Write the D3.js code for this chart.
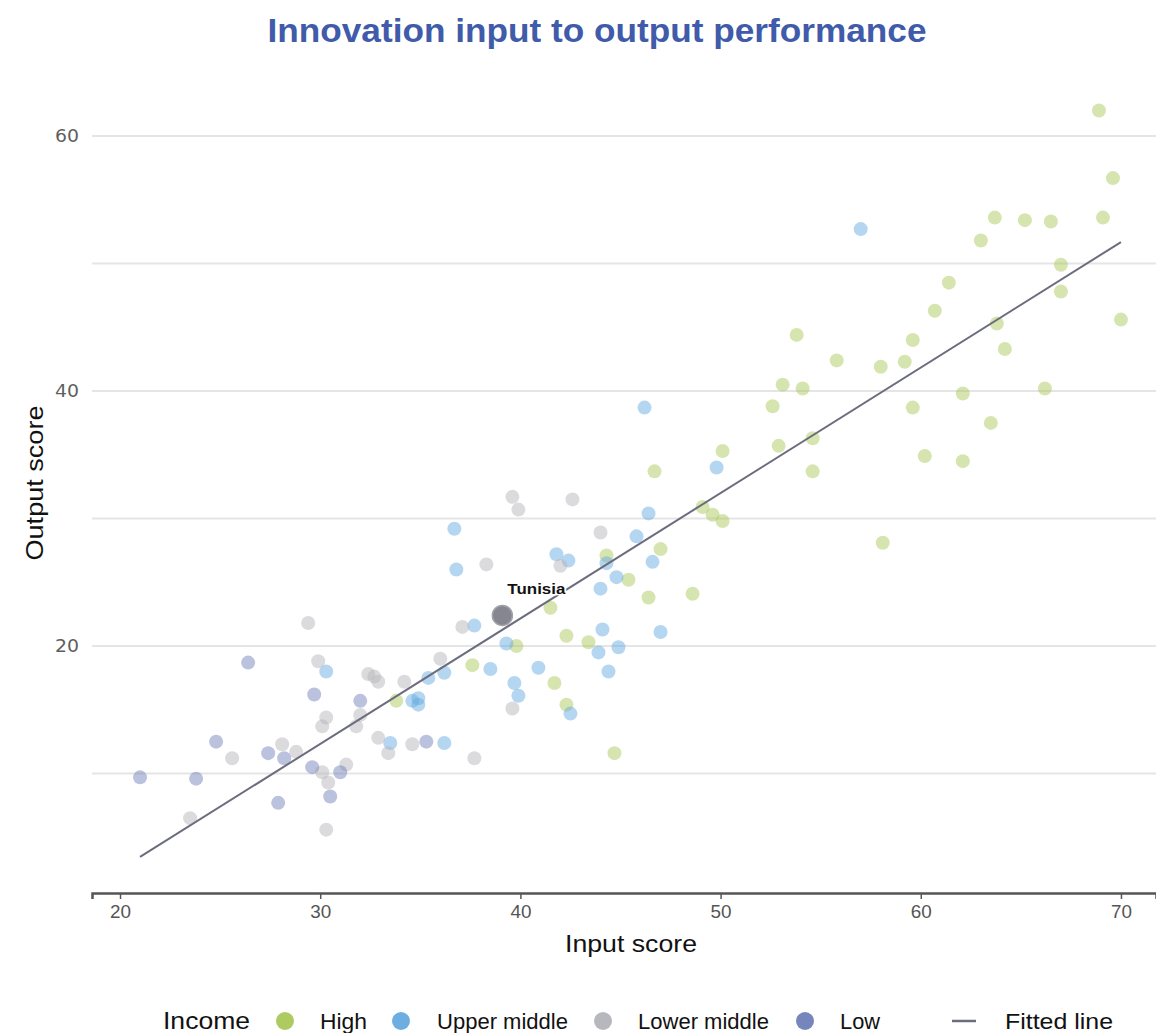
<!DOCTYPE html>
<html>
<head>
<meta charset="utf-8">
<script src="https://cdn.jsdelivr.net/npm/d3@7"></script>
<style>
  html, body { margin: 0; padding: 0; background: #fff; }
  svg { display: block; }
  .narrow { font-family: "Liberation Sans Narrow", "Arial Narrow", "Liberation Sans", Arial, sans-serif; font-stretch: condensed; }
</style>
</head>
<body>
<svg id="chart" width="1156" height="1033"></svg>
<script>
// ---- Data ----
const highPts = [
  [68.9,62.0],[69.6,56.7],[63.7,53.6],[65.2,53.4],[66.5,53.3],[69.1,53.6],[63.0,51.8],
  [67.0,49.9],[61.4,48.5],[67.0,47.8],[60.7,46.3],[70.0,45.6],[59.6,44.0],[63.8,45.3],
  [64.2,43.3],[59.2,42.3],[53.8,44.4],[55.8,42.4],[58.0,41.9],[53.1,40.5],[54.1,40.2],
  [52.6,38.8],[59.6,38.7],[62.1,39.8],[66.2,40.2],[63.5,37.5],[52.9,35.7],[54.6,36.3],
  [50.1,35.3],[60.2,34.9],[62.1,34.5],[54.6,33.7],[46.7,33.7],[49.1,30.9],[49.6,30.3],
  [50.1,29.8],[58.1,28.1],[47.0,27.6],[44.3,27.1],[45.4,25.2],[48.6,24.1],[46.4,23.8],
  [41.5,23.0],[42.3,20.8],[43.4,20.3],[39.8,20.0],[37.6,18.5],[41.7,17.1],[42.3,15.4],
  [33.8,15.7],[44.7,11.6]
];
const upperMiddlePts = [
  [57.0,52.7],[46.2,38.7],[49.8,34.0],[46.4,30.4],[45.8,28.6],[36.7,29.2],[36.8,26.0],
  [41.8,27.2],[42.4,26.7],[44.3,26.5],[46.6,26.6],[44.8,25.4],[44.0,24.5],[37.7,21.6],
  [44.1,21.3],[47.0,21.1],[39.3,20.2],[43.9,19.5],[44.9,19.9],[38.5,18.2],[40.9,18.3],
  [44.4,18.0],[39.7,17.1],[39.9,16.1],[42.5,14.7],[30.3,18.0],[35.4,17.5],[36.2,17.9],
  [34.6,15.7],[34.9,15.9],[34.9,15.4],[33.5,12.4],[36.2,12.4]
];
const lowerMiddlePts = [
  [23.5,6.5],[25.6,11.2],[28.1,12.3],[28.8,11.7],[29.4,21.8],[29.9,18.8],[30.3,14.4],
  [30.1,13.7],[30.1,10.1],[30.4,9.3],[31.3,10.7],[30.3,5.6],[32.4,17.8],[32.7,17.6],
  [32.9,17.2],[32.0,14.6],[31.8,13.7],[32.9,12.8],[33.4,11.6],[34.2,17.2],[34.6,12.3],
  [36.0,19.0],[37.1,21.5],[37.7,11.2],[38.3,26.4],[39.6,31.7],[39.9,30.7],[42.6,31.5],
  [44.0,28.9],[42.0,26.3],[39.6,15.1]
];
const lowPts = [
  [21.0,9.7],[23.8,9.6],[24.8,12.5],[26.4,18.7],[27.4,11.6],[28.2,11.2],[27.9,7.7],
  [29.6,10.5],[31.0,10.1],[30.5,8.2],[29.7,16.2],[32.0,15.7],[35.3,12.5]
];
const highlight = { name: "Tunisia", x: 39.1, y: 22.4 };
const fitSlope = 0.984, fitIntercept = -17.2;
const xTicks = [20, 30, 40, 50, 60, 70];
const yGrid = [10, 20, 30, 40, 50, 60];
const yLabels = [20, 40, 60];
const groups = [
  { name: "High", pts: highPts, color: "#aac85a" },
  { name: "Upper middle", pts: upperMiddlePts, color: "#64aadf" },
  { name: "Lower middle", pts: lowerMiddlePts, color: "#b3b4b9" },
  { name: "Low", pts: lowPts, color: "#6f7fb8" }
];

// ---- Layout ----
const svg = d3.select("#chart");
const x = d3.scaleLinear().domain([18.6, 71.75]).range([92, 1156]);
const y = d3.scaleLinear().domain([0.63, 64]).range([893, 85]);

// title
svg.append("text").attr("class", "narrow")
  .attr("x", 597).attr("y", 42).attr("text-anchor", "middle")
  .attr("font-size", 34).attr("font-weight", "bold").attr("fill", "#3f5ba9")
  .attr("textLength", 659).attr("lengthAdjust", "spacingAndGlyphs")
  .text("Innovation input to output performance");

// gridlines
svg.append("g").selectAll("line").data(yGrid).join("line")
  .attr("x1", 92).attr("x2", 1156)
  .attr("y1", d => y(d)).attr("y2", d => y(d))
  .attr("stroke", "#e5e5e5").attr("stroke-width", 2);

// y labels
svg.append("g").selectAll("text").data(yLabels).join("text")
  .attr("x", 79).attr("y", d => y(d)).attr("dy", "0.36em")
  .attr("text-anchor", "end").attr("font-family", "DejaVu Sans, Verdana, sans-serif")
  .attr("font-size", 17).attr("fill", "#5f5f5f")
  .attr("textLength", 24).attr("lengthAdjust", "spacingAndGlyphs")
  .text(d => d);

// x axis
const xAxis = d3.axisBottom(x).tickValues(xTicks).tickSize(6).tickPadding(6).tickFormat(d3.format("d"));
const gx = svg.append("g").attr("transform", "translate(0,893)").call(xAxis);
gx.select(".domain").attr("stroke", "#555").attr("stroke-width", 2.5);
gx.selectAll(".tick line").attr("stroke", "#555").attr("stroke-width", 1.5);
gx.selectAll(".tick text").attr("class", "narrow").attr("font-size", 19).attr("fill", "#555")
  .attr("textLength", 21).attr("lengthAdjust", "spacingAndGlyphs");

// axis titles
svg.append("text").attr("class", "narrow")
  .attr("x", 631).attr("y", 952).attr("text-anchor", "middle")
  .attr("font-size", 24).attr("fill", "#111")
  .attr("textLength", 132).attr("lengthAdjust", "spacingAndGlyphs")
  .text("Input score");
svg.append("text").attr("class", "narrow")
  .attr("transform", "translate(43,483) rotate(-90)").attr("text-anchor", "middle")
  .attr("font-size", 24).attr("fill", "#111")
  .attr("textLength", 155).attr("lengthAdjust", "spacingAndGlyphs")
  .text("Output score");

// points
const pg = svg.append("g");
groups.forEach(g => {
  pg.append("g").selectAll("circle").data(g.pts).join("circle")
    .attr("cx", d => x(d[0])).attr("cy", d => y(d[1])).attr("r", 7)
    .attr("fill", g.color).attr("fill-opacity", 0.48);
});

// fitted line
const allX = groups.flatMap(g => g.pts.map(p => p[0]));
const xmin = d3.min(allX), xmax = d3.max(allX);
svg.append("line")
  .attr("x1", x(xmin)).attr("y1", y(fitSlope * xmin + fitIntercept))
  .attr("x2", x(xmax)).attr("y2", y(fitSlope * xmax + fitIntercept))
  .attr("stroke", "#6b6c7e").attr("stroke-width", 2);

// highlight
svg.append("circle").attr("cx", x(highlight.x)).attr("cy", y(highlight.y)).attr("r", 10)
  .attr("fill", "#85868f").attr("stroke", "#a0a1a8").attr("stroke-width", 1.5);
svg.append("text").attr("x", x(highlight.x) + 34).attr("y", y(highlight.y) - 21)
  .attr("text-anchor", "middle").attr("font-family", "Liberation Sans, Arial, sans-serif")
  .attr("font-weight", "bold").attr("font-size", 15).attr("fill", "#111")
  .attr("stroke", "#fff").attr("stroke-width", 3).attr("paint-order", "stroke")
  .attr("textLength", 58).attr("lengthAdjust", "spacingAndGlyphs")
  .text(highlight.name);

// legend
const ly = 1021;
const lg = svg.append("g").attr("class", "narrow");
lg.append("text").attr("x", 163).attr("y", ly).attr("dy", "0.35em")
  .attr("font-size", 24).attr("fill", "#111")
  .attr("textLength", 87).attr("lengthAdjust", "spacingAndGlyphs").text("Income");
const legendItems = [
  { cx: 285, tx: 320, w: 47, g: groups[0] },
  { cx: 401, tx: 437, w: 131, g: groups[1] },
  { cx: 603, tx: 638, w: 131, g: groups[2] },
  { cx: 805, tx: 840, w: 40, g: groups[3] }
];
legendItems.forEach(it => {
  lg.append("circle").attr("cx", it.cx).attr("cy", ly).attr("r", 9).attr("fill", it.g.color).attr("fill-opacity", 0.95);
  lg.append("text").attr("x", it.tx).attr("y", ly).attr("dy", "0.35em")
    .attr("font-size", 22).attr("fill", "#111")
    .attr("textLength", it.w).attr("lengthAdjust", "spacingAndGlyphs").text(it.g.name);
});
lg.append("line").attr("x1", 952).attr("x2", 976).attr("y1", ly).attr("y2", ly)
  .attr("stroke", "#6b6c7e").attr("stroke-width", 2.5);
lg.append("text").attr("x", 1005).attr("y", ly).attr("dy", "0.35em")
  .attr("font-size", 22).attr("fill", "#111")
  .attr("textLength", 108).attr("lengthAdjust", "spacingAndGlyphs").text("Fitted line");
</script>
</body>
</html>
